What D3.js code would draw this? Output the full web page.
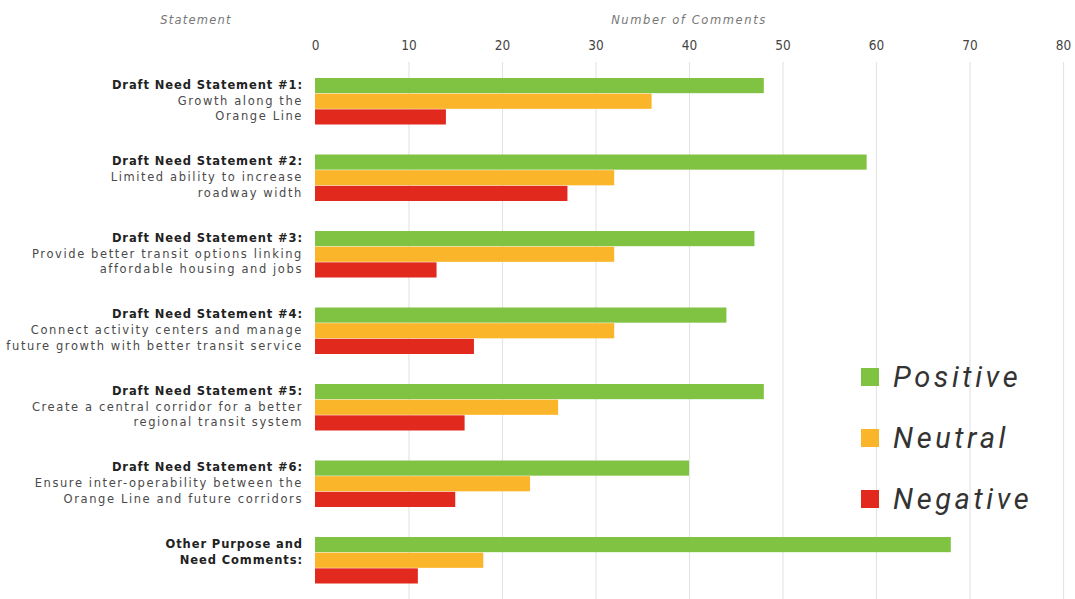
<!DOCTYPE html>
<html><head><meta charset="utf-8">
<script src="https://cdn.jsdelivr.net/npm/d3@7"></script>
<style>
html,body{margin:0;padding:0;background:#fff;}
svg{display:block;}
</style></head>
<body><svg id="chart" width="1075" height="599"></svg>
<script>
const categories = ["s1","s2","s3","s4","s5","s6","other"];
const labelLines = [
  ["Draft Need Statement #1:","Growth along the","Orange Line"],
  ["Draft Need Statement #2:","Limited ability to increase","roadway width"],
  ["Draft Need Statement #3:","Provide better transit options linking","affordable housing and jobs"],
  ["Draft Need Statement #4:","Connect activity centers and manage","future growth with better transit service"],
  ["Draft Need Statement #5:","Create a central corridor for a better","regional transit system"],
  ["Draft Need Statement #6:","Ensure inter-operability between the","Orange Line and future corridors"],
  ["Other Purpose and","Need Comments:"]
];
const boldLineCount = [1,1,1,1,1,1,2];
const seriesNames = ["Positive","Neutral","Negative"];
const positive = [48,59,47,44,48,40,68];
const neutral  = [36,32,32,32,26,23,18];
const negative = [14,27,13,17,16,15,11];
const tickValues = [0,10,20,30,40,50,60,70,80];
const colors = ["#80c242","#fab52b","#e2291e"];

const svg = d3.select("#chart");
const x = d3.scaleLinear().domain([0,80]).range([315,1063]);
const y = d3.scaleBand().domain(categories).range([63.25,598.75]).paddingInner(0.3856).paddingOuter(0.1928);
const yi = d3.scaleBand().domain(seriesNames).range([0,y.bandwidth()]).padding(0);
const values = {Positive:positive, Neutral:neutral, Negative:negative};

// headers
svg.append("text").attr("x",196).attr("y",20).attr("dy","0.35em").attr("text-anchor","middle")
  .attr("font-family","'DejaVu Sans',sans-serif").attr("font-style","italic")
  .attr("font-size",11.5).attr("letter-spacing","1.2px").attr("fill","#777").text("Statement");
svg.append("text").attr("x",(x(0)+x(80))/2).attr("y",20).attr("dy","0.35em").attr("text-anchor","middle")
  .attr("font-family","'DejaVu Sans',sans-serif").attr("font-style","italic")
  .attr("font-size",11.5).attr("letter-spacing","1.6px").attr("fill","#777").text("Number of Comments");

// grid
const grid = svg.append("g").attr("transform","translate(0,62)")
  .call(d3.axisBottom(x).tickValues(tickValues.filter(d=>d>0)).tickSize(537).tickFormat(""));
grid.select(".domain").remove();
grid.selectAll("line").attr("stroke","#e4e4e4").attr("stroke-width",1.2);

// tick labels
const ax = svg.append("g").attr("transform","translate(0,45)")
  .call(d3.axisTop(x).tickValues(tickValues).tickSize(0).tickPadding(0));
ax.select(".domain").remove();
ax.selectAll("text").attr("font-family","'DejaVu Sans Condensed','DejaVu Sans',sans-serif")
  .attr("font-size",13.5).attr("fill","#444").attr("dy","0.35em");

// bars
categories.forEach((c,ci)=>{
  const g = svg.append("g").attr("transform",`translate(0,${y(c)})`);
  g.selectAll("rect").data(seriesNames).join("rect")
    .attr("x",x(0)).attr("y",s=>yi(s)).attr("height",yi.bandwidth()-0.5)
    .attr("width",s=>x(values[s][ci])-x(0))
    .attr("fill",(s,i)=>colors[i]);
});

// labels
categories.forEach((c,ci)=>{
  const lines = labelLines[ci];
  lines.forEach((t,li)=>{
    const bold = li < boldLineCount[ci];
    svg.append("text").attr("x",303)
      .attr("y",y(c)+yi(seriesNames[li])+yi.bandwidth()/2 - 1)
      .attr("dy","0.35em").attr("text-anchor","end")
      .attr("font-family","'DejaVu Sans',sans-serif")
      .attr("font-size",11.5).attr("font-weight",bold?"bold":"normal")
      .attr("letter-spacing", bold?"0.9px":"1.6px")
      .attr("fill",bold?"#222":"#4a4a4a").text(t);
  });
});

// legend
const leg = svg.append("g");
seriesNames.forEach((s,i)=>{
  const cy = 377 + i*61;
  leg.append("rect").attr("x",861).attr("y",cy-9).attr("width",18).attr("height",18).attr("fill",colors[i]);
  leg.append("text").attr("x",893).attr("y",cy).attr("dy","0.35em")
    .attr("font-family","Roboto,'DejaVu Sans',sans-serif").attr("font-style","italic")
    .attr("font-size",29).attr("letter-spacing","3.6px").attr("fill","#333").text(s);
});
</script></body></html>
